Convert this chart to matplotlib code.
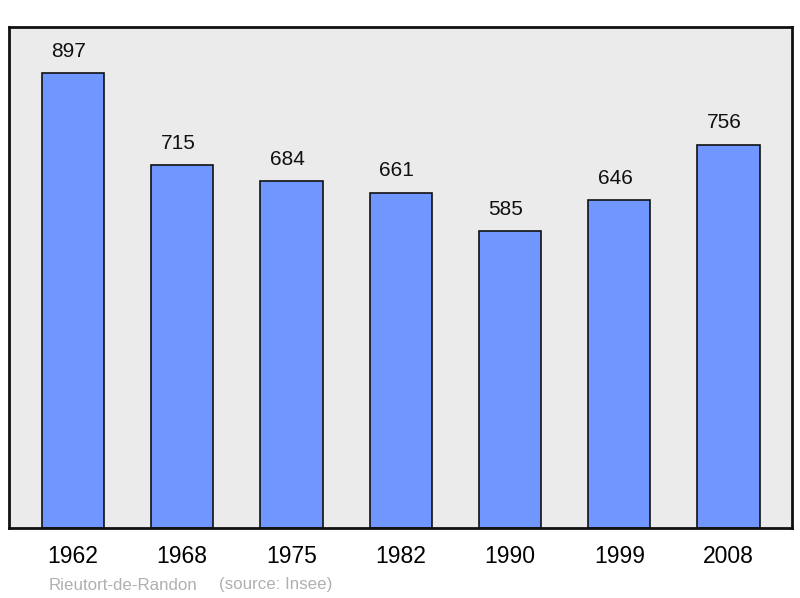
import matplotlib
matplotlib.use("Agg")
from matplotlib import pyplot as plt

years = ["1962", "1968", "1975", "1982", "1990", "1999", "2008"]
population = [897, 715, 684, 661, 585, 646, 756]
commune = "Rieutort-de-Randon"
source = "(source: Insee)"

plt.rcParams['font.family'] = ['Liberation Sans', 'DejaVu Sans']

fig = plt.figure(figsize=(8, 5.98), dpi=100)
ax = fig.add_axes([9 / 800, 70 / 598, 783 / 800, 501 / 598])
ax.set_facecolor('#ebebeb')

x = range(len(years))
bars = ax.bar(x, population, width=0.57, color='#7096ff', edgecolor='#111111', linewidth=1.2)

for xi, val in zip(x, population):
    ax.annotate(str(val), (xi, val), xytext=(-3, 9), textcoords='offset points',
                ha='center', va='bottom', fontsize=15, color='#111111')

ax.set_xlim(-0.585, len(years) - 1 + 0.58)
ax.set_ylim(0, 988)
ax.set_yticks([])
ax.set_xticks(list(x))
ax.set_xticklabels(years, fontsize=16.5)
ax.tick_params(axis='x', length=0, pad=12)
for s in ax.spines.values():
    s.set_linewidth(2)
    s.set_color('#111111')

fig.text(49 / 800, 1 - 585 / 598, commune, fontsize=12.2, color='#b0b0b0', va='center')
fig.text(219 / 800, 1 - 585 / 598, source, fontsize=12.2, color='#b0b0b0', va='center')

fig.savefig("out.png", dpi=100)
